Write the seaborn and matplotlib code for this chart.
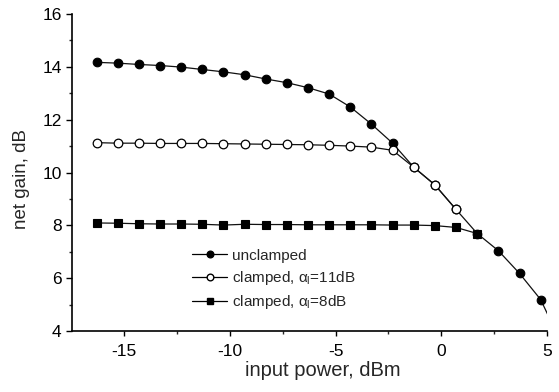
import numpy as np
import pandas as pd
import seaborn as sns
import matplotlib
matplotlib.use('Agg')
import matplotlib.pyplot as plt
from matplotlib.ticker import MultipleLocator
from matplotlib.lines import Line2D

# input power, dBm (1 dB steps)
power = [-16.3, -15.3, -14.3, -13.3, -12.3, -11.3, -10.3, -9.3, -8.3, -7.3, -6.3,
         -5.3, -4.3, -3.3, -2.3, -1.3, -0.3, 0.7, 1.7, 2.7, 3.7, 4.7, 5.7]

unclamped = [14.17, 14.14, 14.09, 14.05, 13.99, 13.90, 13.81, 13.70, 13.54, 13.40, 13.21,
             12.97, 12.48, 11.83, 11.11, 10.20, 9.53, 8.60, 7.69, 7.04, 6.18, 5.19, 3.5]
clamped11 = [11.13, 11.11, 11.11, 11.10, 11.10, 11.10, 11.09, 11.08, 11.07, 11.06, 11.05,
             11.03, 11.00, 10.96, 10.84, 10.20, 9.53, 8.60]
clamped8 = [8.09, 8.08, 8.06, 8.05, 8.05, 8.04, 8.01, 8.04, 8.03, 8.03, 8.02,
            8.02, 8.02, 8.02, 8.01, 8.01, 7.99, 7.92, 7.69]

labels = ['unclamped', r'clamped, $\alpha_{\rm l}$=11dB', r'clamped, $\alpha_{\rm l}$=8dB']

sns.set_style('ticks')
plt.rcParams['font.family'] = ['Liberation Sans', 'DejaVu Sans']
plt.rcParams['mathtext.fontset'] = 'custom'
plt.rcParams['mathtext.rm'] = 'Liberation Sans'
plt.rcParams['mathtext.it'] = 'Liberation Sans'
plt.rcParams['axes.unicode_minus'] = False

fig = plt.figure(figsize=(5.59, 3.92), dpi=100)
ax = fig.add_axes([72/559, 61/392, 475/559, 317/392])

d8 = pd.DataFrame({'x': power[:len(clamped8)], 'y': clamped8})
du = pd.DataFrame({'x': power, 'y': unclamped})
d11 = pd.DataFrame({'x': power[:len(clamped11)], 'y': clamped11})

sns.lineplot(data=d8, x='x', y='y', ax=ax, color='#111111', lw=0.9, marker='s', ms=5.2,
             mfc='black', mec='black', mew=0.8)
sns.lineplot(data=du, x='x', y='y', ax=ax, color='#111111', lw=0.9, marker='o', ms=6.2,
             mfc='black', mec='black', mew=0.8)
sns.lineplot(data=d11, x='x', y='y', ax=ax, color='#111111', lw=0.9, marker='o', ms=6.2,
             mfc='white', mec='black', mew=0.9)

ax.set_xlim(-17.46, 5)
ax.set_ylim(4, 16)
ax.xaxis.set_major_locator(MultipleLocator(5))
ax.xaxis.set_minor_locator(MultipleLocator(2.5))
ax.yaxis.set_major_locator(MultipleLocator(2))
ax.yaxis.set_minor_locator(MultipleLocator(1))
ax.tick_params(axis='x', which='major', length=3.5, width=1, labelsize=12.5, colors='black', pad=5.5)
ax.tick_params(axis='y', which='major', length=4.5, width=1, labelsize=12.5, colors='black', pad=3)
ax.tick_params(which='minor', length=2.5, width=1)
for s in ['top', 'right']:
    ax.spines[s].set_visible(False)
for s in ['left', 'bottom']:
    ax.spines[s].set_linewidth(1.2)
    ax.spines[s].set_color('black')

ax.set_xlabel('input power, dBm', fontsize=14.5)
ax.set_ylabel('net gain, dB', fontsize=13.5)
ax.xaxis.set_label_coords(0.528, -0.095)
ax.yaxis.set_label_coords(-0.088, 0.478)

handles = [
    Line2D([], [], color='black', lw=0.9, marker='o', ms=4.8, mfc='black', mec='black'),
    Line2D([], [], color='black', lw=0.9, marker='o', ms=4.8, mfc='white', mec='black'),
    Line2D([], [], color='black', lw=0.9, marker='s', ms=4.2, mfc='black', mec='black'),
]
ax.legend(handles, labels, loc='upper left', bbox_to_anchor=(0.253, 0.26), frameon=False,
          fontsize=11, handlelength=2.3, handletextpad=0.3, labelspacing=0.42,
          borderaxespad=0, borderpad=0)

fig.savefig('out.png', dpi=100)
